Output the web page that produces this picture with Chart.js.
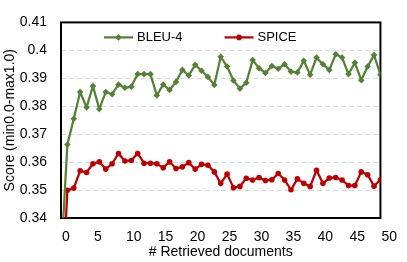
<!DOCTYPE html>
<html>
<head>
<meta charset="utf-8">
<script src="https://cdn.jsdelivr.net/npm/chart.js@4.4.0/dist/chart.umd.min.js"></script>
<style>
  html, body { margin: 0; padding: 0; background: #fff; }
  canvas { display: block; }
</style>
</head>
<body>
<canvas id="retrievalChart" width="407" height="262"></canvas>
<script>
// number of retrieved documents (x) and scores per metric
var docs = [0, 1, 2, 3, 4, 5, 6, 7, 8, 9, 10, 11, 12, 13, 14, 15, 16, 17, 18, 19, 20,
  21, 22, 23, 24, 25, 26, 27, 28, 29, 30, 31, 32, 33, 34, 35, 36, 37, 38, 39, 40,
  41, 42, 43, 44, 45, 46, 47, 48, 49, 50];

var bleu4 = [0.325, 0.3663, 0.3755, 0.3851, 0.3796, 0.3872, 0.3790, 0.3851, 0.3843, 0.3878,
  0.3866, 0.3870, 0.3915, 0.3915, 0.3915, 0.3839, 0.3878, 0.3858, 0.3887, 0.3930,
  0.3910, 0.3948, 0.3927, 0.3905, 0.3876, 0.3977, 0.3942, 0.3892, 0.3863, 0.3884,
  0.3965, 0.3936, 0.3919, 0.3944, 0.3934, 0.3950, 0.3924, 0.3921, 0.3963, 0.3913,
  0.3974, 0.3950, 0.3930, 0.3986, 0.3974, 0.3915, 0.3956, 0.3893, 0.3942, 0.3983,
  0.3913];

var spice = [0.305, 0.3499, 0.3507, 0.3569, 0.3563, 0.3594, 0.3601, 0.3575, 0.3594, 0.3631,
  0.3604, 0.3606, 0.3631, 0.3596, 0.3596, 0.3594, 0.3580, 0.3601, 0.3577, 0.3583,
  0.3598, 0.3575, 0.3592, 0.3589, 0.3565, 0.3524, 0.3557, 0.3508, 0.3513, 0.3542,
  0.3536, 0.3545, 0.3534, 0.3537, 0.3559, 0.3536, 0.3501, 0.3540, 0.3524, 0.3513,
  0.3571, 0.3524, 0.3543, 0.3545, 0.3536, 0.3516, 0.3516, 0.3565, 0.3555, 0.3514,
  0.3537];

var seriesNames = ["BLEU-4", "SPICE"];
var seriesColors = ["#548235", "#C00000"];

var FONT = "'Liberation Sans', Arial, sans-serif";
Chart.defaults.font.family = FONT;
Chart.defaults.color = "#000";

// black frame round the plot area
var frameBox = {
  id: "frameBox",
  beforeDatasetsDraw: function(chart) {
    var a = chart.chartArea;
    var ctx = chart.ctx;
    ctx.save();
    ctx.strokeStyle = "#000";
    ctx.lineWidth = 2;
    ctx.strokeRect(a.left, a.top, a.right - a.left, a.bottom - a.top);
    ctx.restore();
  }
};

// one-row legend inside the plot, line + marker like the excel original
var inlineLegend = {
  id: "inlineLegend",
  afterDatasetsDraw: function(chart) {
    var a = chart.chartArea;
    var ctx = chart.ctx;
    var x = a.left + 43;
    var y = a.top + 15;
    ctx.save();
    ctx.font = "13px " + FONT;
    ctx.textBaseline = "middle";
    ctx.textAlign = "left";
    chart.data.datasets.forEach(function(ds) {
      ctx.strokeStyle = ds.borderColor;
      ctx.fillStyle = ds.borderColor;
      ctx.lineWidth = ds.borderWidth;
      ctx.beginPath();
      ctx.moveTo(x, y);
      ctx.lineTo(x + 29, y);
      ctx.stroke();
      Chart.helpers.drawPoint(ctx, {
        pointStyle: ds.pointStyle,
        radius: ds.pointRadius,
        borderWidth: 0,
        rotation: 0
      }, x + 14.5, y);
      ctx.fillStyle = "#000";
      ctx.fillText(ds.label, x + 33, y);
      x += 33 + ctx.measureText(ds.label).width + 42;
    });
    ctx.restore();
  }
};

var ctx = document.getElementById("retrievalChart").getContext("2d");
new Chart(ctx, {
  type: "line",
  data: {
    labels: docs,
    datasets: [
      {
        label: seriesNames[0],
        data: bleu4,
        borderColor: seriesColors[0],
        backgroundColor: seriesColors[0],
        borderWidth: 2.25,
        pointStyle: "rectRot",
        pointRadius: 3.3,
        pointBorderWidth: 0,
        tension: 0
      },
      {
        label: seriesNames[1],
        data: spice,
        borderColor: seriesColors[1],
        backgroundColor: seriesColors[1],
        borderWidth: 2.25,
        pointStyle: "circle",
        pointRadius: 2.8,
        pointBorderWidth: 0,
        tension: 0
      }
    ]
  },
  options: {
    responsive: false,
    animation: false,
    devicePixelRatio: 1,
    layout: {
      padding: { top: 17, right: 26, bottom: 1, left: 0 }
    },
    plugins: {
      tooltip: { enabled: false },
      legend: { display: false }
    },
    scales: {
      x: {
        type: "linear",
        min: 0,
        max: 50,
        grid: { display: false, drawTicks: false },
        border: { display: false },
        ticks: {
          stepSize: 5,
          align: "start",
          labelOffset: 1,
          padding: 11,
          maxRotation: 0,
          autoSkip: false,
          color: "#000",
          font: { size: 14 }
        },
        title: {
          display: true,
          text: "# Retrieved documents",
          color: "#000",
          font: { size: 14 },
          padding: { top: 0, bottom: 0 }
        },
        afterFit: function(scale) {
          scale.height = 43;
        }
      },
      y: {
        min: 0.34,
        max: 0.41,
        grid: { color: "#D9D9D9", lineWidth: 1, drawTicks: false },
        border: { display: false, dash: [5, 3] },
        ticks: {
          stepSize: 0.01,
          padding: 14,
          color: "#000",
          font: { size: 14 },
          callback: function(v) {
            return String(parseFloat(v.toFixed(2)));
          }
        },
        title: {
          display: true,
          text: "Score (min0.0-max1.0)",
          color: "#000",
          font: { size: 14 },
          padding: { top: 2, bottom: 0 }
        },
        afterFit: function(scale) {
          scale.width = 61;
        }
      }
    }
  },
  plugins: [frameBox, inlineLegend]
});
</script>
</body>
</html>
